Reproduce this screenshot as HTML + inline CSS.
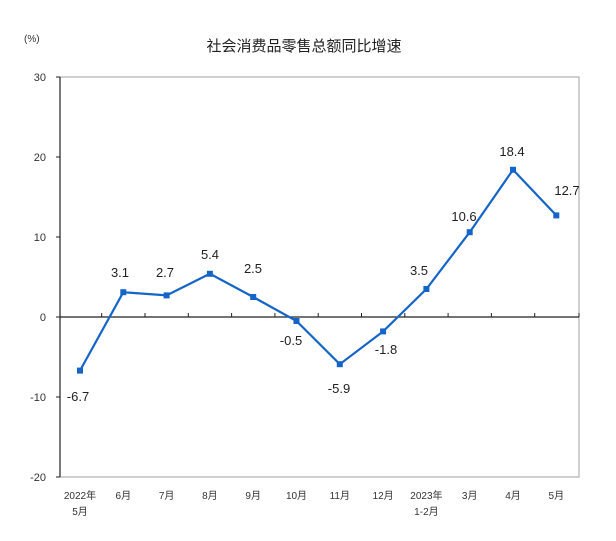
<!DOCTYPE html>
<html><head><meta charset="utf-8"><style>
html,body{margin:0;padding:0;background:#fff;}
svg{display:block;font-family:"Liberation Sans","Noto Sans CJK SC",sans-serif;}
</style></head><body>
<svg width="616" height="541" viewBox="0 0 616 541" xmlns="http://www.w3.org/2000/svg">
<rect width="616" height="541" fill="#fff"/>
<text x="304" y="51" font-size="15" text-anchor="middle" fill="#222">社会消费品零售总额同比增速</text>
<text x="24" y="42" font-size="10" fill="#333">(%)</text>
<rect x="60" y="77" width="519" height="400" fill="none" stroke="#a0a0a0" stroke-width="1"/>
<line x1="60" y1="77" x2="60" y2="477" stroke="#222" stroke-width="1.2"/>
<line x1="60" y1="317" x2="579" y2="317" stroke="#222" stroke-width="1.2"/>
<g stroke="#222" stroke-width="1">
<line x1="56" y1="77" x2="60" y2="77"/><line x1="56" y1="157" x2="60" y2="157"/><line x1="56" y1="237" x2="60" y2="237"/><line x1="56" y1="317" x2="60" y2="317"/><line x1="56" y1="397" x2="60" y2="397"/><line x1="56" y1="477" x2="60" y2="477"/>
<line x1="101.7" y1="313" x2="101.7" y2="317"/><line x1="145" y1="313" x2="145" y2="317"/><line x1="188.3" y1="313" x2="188.3" y2="317"/><line x1="231.6" y1="313" x2="231.6" y2="317"/><line x1="274.9" y1="313" x2="274.9" y2="317"/><line x1="318.2" y1="313" x2="318.2" y2="317"/><line x1="361.5" y1="313" x2="361.5" y2="317"/><line x1="404.8" y1="313" x2="404.8" y2="317"/><line x1="448.1" y1="313" x2="448.1" y2="317"/><line x1="491.4" y1="313" x2="491.4" y2="317"/><line x1="534.7" y1="313" x2="534.7" y2="317"/><line x1="579" y1="313" x2="579" y2="317"/>
</g>
<g font-size="11" fill="#333" text-anchor="end">
<text x="46" y="81">30</text><text x="46" y="161">20</text><text x="46" y="241">10</text><text x="46" y="321">0</text><text x="46" y="401">-10</text><text x="46" y="481">-20</text>
</g>
<g font-size="10" fill="#333" text-anchor="middle">
<text x="80" y="499">2022年</text><text x="80" y="515">5月</text>
<text x="123.3" y="499">6月</text><text x="166.6" y="499">7月</text><text x="209.9" y="499">8月</text><text x="253.2" y="499">9月</text><text x="296.5" y="499">10月</text><text x="339.8" y="499">11月</text><text x="383.1" y="499">12月</text>
<text x="426.4" y="499">2023年</text><text x="426.4" y="515">1-2月</text>
<text x="469.7" y="499">3月</text><text x="513" y="499">4月</text><text x="556.3" y="499">5月</text>
</g>
<polyline fill="none" stroke="#1565c8" stroke-width="2.2" points="80,370.6 123.3,292.2 166.6,295.4 209.9,273.8 253.2,297 296.5,321 339.8,364.2 383.1,331.4 426.4,289 469.7,232.2 513,169.8 556.3,215.4"/>
<g fill="#1565c8">
<rect x="77" y="367.6" width="6" height="6"/><rect x="120.3" y="289.2" width="6" height="6"/><rect x="163.6" y="292.4" width="6" height="6"/><rect x="206.9" y="270.8" width="6" height="6"/><rect x="250.2" y="294" width="6" height="6"/><rect x="293.5" y="318" width="6" height="6"/><rect x="336.8" y="361.2" width="6" height="6"/><rect x="380.1" y="328.4" width="6" height="6"/><rect x="423.4" y="286" width="6" height="6"/><rect x="466.7" y="229.2" width="6" height="6"/><rect x="510" y="166.8" width="6" height="6"/><rect x="553.3" y="212.4" width="6" height="6"/>
</g>
<g font-size="13" fill="#222" text-anchor="middle">
<text x="78" y="401">-6.7</text><text x="120" y="277">3.1</text><text x="165" y="277">2.7</text><text x="210" y="259">5.4</text><text x="253" y="273">2.5</text><text x="291" y="345">-0.5</text><text x="339" y="393">-5.9</text><text x="386" y="354">-1.8</text><text x="419" y="275">3.5</text><text x="464" y="221">10.6</text><text x="512" y="156">18.4</text><text x="567" y="195">12.7</text>
</g>
</svg>
</body></html>
